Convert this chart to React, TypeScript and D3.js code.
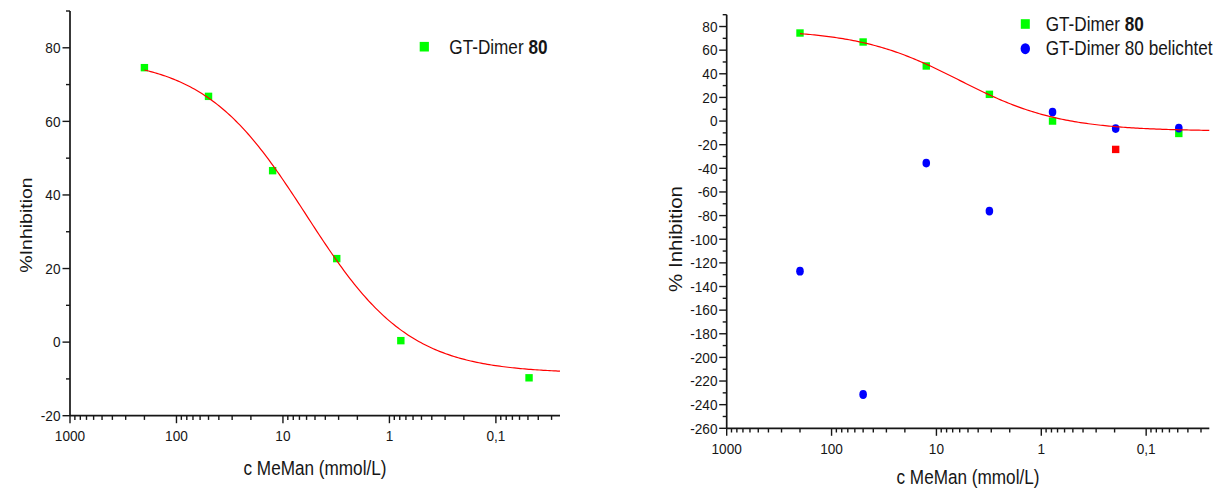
import React from "react";
import * as d3 from "d3";

// concentrations of MeMan (mmol/L), 1:4 dilution series
const conc = [200, 50, 12.5, 3.125, 0.78125, 0.1953125, 0.048828125];
// GT-Dimer 80 (% inhibition)
const dimerLeft = [74.6, 66.8, 46.6, 22.7, 0.4, null, -9.7];
const dimerRight = [74.5, 66.9, 46.6, 22.6, 0.0, -24.0, -10.5];
const dimerMasked = [false, false, false, false, false, true, false];
// GT-Dimer 80 belichtet
const belichtet = [-127, -231.4, -35.6, -76.2, 7.6, -6.4, -5.9];
// sigmoidal fit of GT-Dimer 80 (top, bottom, log EC50, hill)
const fitTop = 77.5;
const fitBottom = -8.5;
const fitLogEC50 = 0.78;
const fitHill = 0.9;

const xMajorTicks = [1000, 100, 10, 1, 0.1];
const xTickLabels = ["1000", "100", "10", "1", "0,1"];
const xDomain: [number, number] = [1000, 0.025];

const FONT = "'Liberation Sans', Arial, Helvetica, sans-serif";
const SX = 0.88;
const INK = "#161616";

function fit(c: number) {
  return fitBottom + (fitTop - fitBottom) / (1 + Math.pow(10, fitHill * (fitLogEC50 - Math.log10(c))));
}

function Txt(props: any) {
  const { x, y, size, anchor, rotate, children, fill } = props;
  return (
    <text
      transform={`translate(${x},${y}) scale(${SX},1)${rotate ? " rotate(-90)" : ""}`}
      fontSize={size}
      fontFamily={FONT}
      textAnchor={anchor || "start"}
      fill={fill || INK}
    >
      {children}
    </text>
  );
}

type PanelProps = {
  x0: number; x1: number; y0: number; y1: number;
  yMin: number; yMax: number;
  tickBase: number; yLabelX: number;
  yTitle: string; yTitleX: number; yTitleY: number; yTitleSize: number;
  xTitleY: number;
  right: boolean;
};

function Panel(p: PanelProps) {
  const x = d3.scaleLog().domain(xDomain).range([p.x0, p.x1]);
  const y = d3.scaleLinear().domain([p.yMin, p.yMax]).range([p.y1, p.y0]);

  const minors: number[] = [];
  for (let k = -2; k <= 2; k++) {
    for (let m = 2; m <= 9; m++) {
      const v = m * Math.pow(10, k);
      if (v >= xDomain[1] && v <= xDomain[0]) minors.push(v);
    }
  }
  const yMajors = d3.range(p.yMin, p.yMax + 0.001, 20);
  const yMinors = d3.range(p.yMin + 10, p.yMax + 0.001, 20);

  const curvePts = d3.range(0, 201).map((i) => {
    const lc = Math.log10(200) + (Math.log10(xDomain[1]) - Math.log10(200)) * (i / 200);
    return [Math.pow(10, lc), fit(Math.pow(10, lc))] as [number, number];
  });
  const line = d3.line<[number, number]>().x((d) => x(d[0])).y((d) => y(d[1]));

  const dimer = p.right ? dimerRight : dimerLeft;
  const sq = 7.4;

  return (
    <g>
      {/* axes */}
      <line x1={p.x0} x2={p.x1} y1={p.y1} y2={p.y1} stroke={INK} strokeWidth={1.7} />
      <line x1={p.x0} x2={p.x0} y1={p.y0} y2={p.y1} stroke={INK} strokeWidth={1.7} />
      {xMajorTicks.map((t, i) => (
        <g key={"xm" + i}>
          <line x1={x(t)} x2={x(t)} y1={p.y1} y2={p.y1 + 7.5} stroke={INK} strokeWidth={1.4} />
          <Txt x={x(t)} y={p.tickBase} size={15.5} anchor="middle">{xTickLabels[i]}</Txt>
        </g>
      ))}
      {minors.map((t, i) => (
        <line key={"xn" + i} x1={x(t)} x2={x(t)} y1={p.y1} y2={p.y1 + 4.2} stroke={INK} strokeWidth={1.4} />
      ))}
      {yMajors.map((t, i) => (
        <g key={"ym" + i}>
          <line x1={p.x0 - 7.5} x2={p.x0} y1={y(t)} y2={y(t)} stroke={INK} strokeWidth={1.4} />
          <Txt x={p.yLabelX} y={y(t) + 5.3} size={15.5} anchor="end">{String(t)}</Txt>
        </g>
      ))}
      {yMinors.map((t, i) => (
        <line key={"yn" + i} x1={p.x0 - 4} x2={p.x0} y1={y(t)} y2={y(t)} stroke={INK} strokeWidth={1.4} />
      ))}
      {/* titles */}
      <Txt x={p.yTitleX} y={p.yTitleY} size={p.yTitleSize} anchor="middle" rotate>{p.yTitle}</Txt>
      <Txt x={(p.x0 + p.x1) / 2} y={p.xTitleY} size={19.5} anchor="middle">c MeMan (mmol/L)</Txt>

      {/* data */}
      {conc.map((c, i) => {
        const v = dimer[i];
        if (v === null) return null;
        const masked = p.right && dimerMasked[i];
        return (
          <rect key={"g" + i} x={x(c) - sq / 2} y={y(v) - sq / 2} width={sq} height={sq}
            fill={masked ? "#ff0000" : "#00ff00"} />
        );
      })}
      {p.right && conc.map((c, i) => (
        <ellipse key={"b" + i} cx={x(c)} cy={y(belichtet[i])} rx={3.8} ry={4.4} fill="#0000ff" />
      ))}
      <path d={line(curvePts) || ""} fill="none" stroke="#ff0000" strokeWidth={1.2} />
    </g>
  );
}

export default function App() {
  return (
    <svg width={1219} height={489} style={{ position: "absolute", left: 0, top: 0, background: "#fff" }}>
      <rect x={0} y={0} width={1219} height={489} fill="#fff" />
      <Panel x0={70} x1={560} y0={11} y1={415.7} yMin={-20} yMax={90}
        tickBase={441} yLabelX={60.5}
        yTitle="%Inhibition" yTitleX={31.5} yTitleY={225} yTitleSize={19.5}
        xTitleY={474.5} right={false} />
      <Panel x0={726.7} x1={1209.3} y0={14.7} y1={428.3} yMin={-260} yMax={90}
        tickBase={454} yLabelX={717.5}
        yTitle="% Inhibition" yTitleX={681.5} yTitleY={239} yTitleSize={20.5}
        xTitleY={484} right={true} />

      {/* legend left */}
      <rect x={424.3 - 4.6} y={46.7 - 4.8} width={9.2} height={9.6} fill="#00ff00" />
      <Txt x={449.3} y={54} size={19.5}>GT-Dimer <tspan fontWeight="bold">80</tspan></Txt>

      {/* legend right */}
      <rect x={1025.3 - 4.5} y={24 - 4.8} width={9} height={9.6} fill="#00ff00" />
      <Txt x={1045.7} y={30.7} size={19.5}>GT-Dimer <tspan fontWeight="bold">80</tspan></Txt>
      <ellipse cx={1025.3} cy={48.7} rx={4.7} ry={5.5} fill="#0000ff" />
      <Txt x={1045.7} y={55.3} size={19.5}>GT-Dimer 80 belichtet</Txt>
    </svg>
  );
}
